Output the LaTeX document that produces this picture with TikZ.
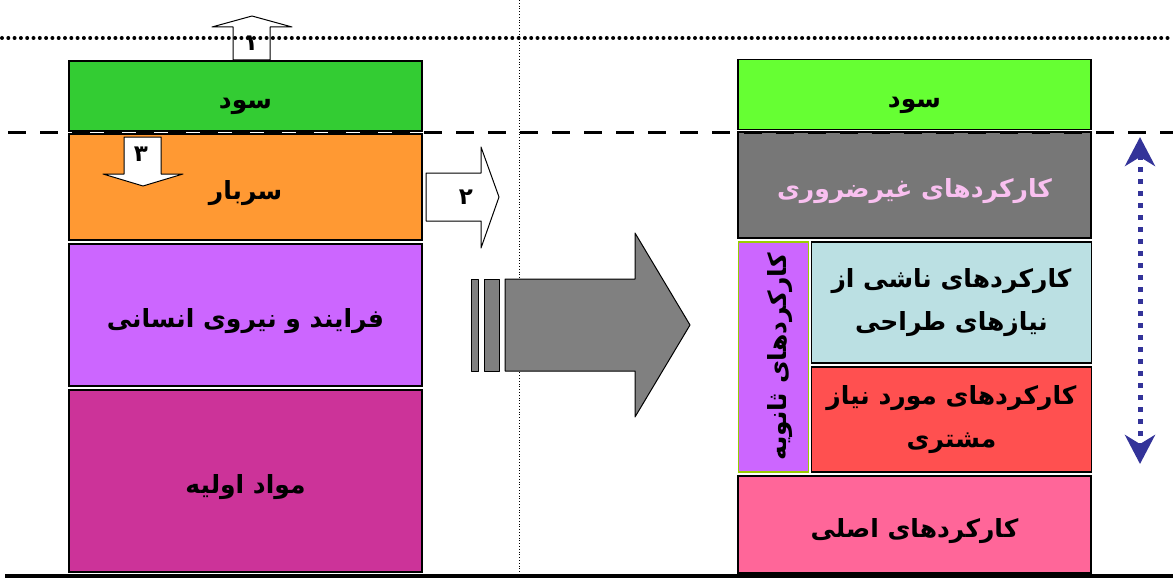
\documentclass[tikz,border=0pt]{standalone}
\usepackage{fontspec}
\newfontfamily\farsi[Script=Arabic]{DejaVu Sans}
\TeXXeTstate=1
\usepackage{tkz-euclide}
\usetikzlibrary{arrows.meta,calc}
\definecolor{ProfitClr}{HTML}{33CC33}
\definecolor{OverheadClr}{HTML}{FF9933}
\definecolor{ProcessClr}{HTML}{CC66FF}
\definecolor{MaterialClr}{HTML}{CC3399}
\definecolor{GainClr}{HTML}{66FF33}
\definecolor{ExtraClr}{HTML}{777777}
\definecolor{ExtraTxtClr}{HTML}{F9C0F0}
\definecolor{SecondEdgeClr}{HTML}{99CC00}
\definecolor{DesignClr}{HTML}{BBE0E3}
\definecolor{CustomerClr}{HTML}{FF5050}
\definecolor{BasicClr}{HTML}{FF6699}
\definecolor{FlowClr}{HTML}{333399}
\definecolor{ShiftClr}{HTML}{808080}
\tikzset{
  blockbox/.style={draw=black,line width=1.5pt,inner sep=0pt,align=center,
    font=\farsi\bfseries\fontsize{25}{43}\selectfont,
    execute at begin node={\rule{0pt}{32pt}}},
  numlabel/.style={inner sep=0pt,font=\farsi\bfseries\fontsize{23}{25}\selectfont},
  flowarrow/.style={draw=FlowClr,line width=5pt,dash pattern=on 5pt off 7pt,
    arrows={Stealth[length=29pt,width=30pt,inset=9pt]-Stealth[length=29pt,width=30pt,inset=9pt]}}
}

\begin{document}
\begin{tikzpicture}[x=1pt,y=-1pt]
\useasboundingbox (0,0) rectangle (1173,578);
\tkzSetUpLine[line width=1pt,color=black]

\draw[line width=0.8pt,dotted] (519,0) -- (519,578);

\node[blockbox,fill=ProfitClr,minimum width=353pt,minimum height=70pt] (profitL) at (245.5,96) {\beginR سود\endR};
\node[blockbox,fill=OverheadClr,minimum width=353pt,minimum height=106pt] (overheadL) at (245.5,187) {\beginR سربار\endR};
\node[blockbox,fill=ProcessClr,minimum width=353pt,minimum height=142pt] (processL) at (245.5,315) {\beginR فرایند و نیروی انسانی\endR};
\node[blockbox,fill=MaterialClr,minimum width=353pt,minimum height=182pt] (materialL) at (245.5,481) {\beginR مواد اولیه\endR};

\node[blockbox,fill=GainClr,minimum width=353pt,minimum height=70pt] (profitR) at (914.5,94.5) {\beginR سود\endR};
\node[blockbox,fill=ExtraClr,text=ExtraTxtClr,minimum width=353pt,minimum height=106pt] (extraR) at (914.5,185) {\beginR کارکردهای غیرضروری\endR};
\node[blockbox,draw=SecondEdgeClr,fill=ProcessClr,minimum width=230pt,minimum height=70pt,rotate=90] (secondR) at (773.5,357) {\beginR کارکردهای ثانویه\endR};
\node[blockbox,fill=DesignClr,minimum width=280pt,minimum height=121pt] (designR) at (951.5,302.5) {\beginR کارکردهای ناشی از\endR\\\beginR نیازهای طراحی\endR};
\node[blockbox,fill=CustomerClr,minimum width=280pt,minimum height=105pt] (customerR) at (951.5,419.5) {\beginR کارکردهای مورد نیاز\endR\\\beginR مشتری\endR};
\node[blockbox,fill=BasicClr,minimum width=353pt,minimum height=97pt] (basicR) at (914.5,524.5) {\beginR کارکردهای اصلی\endR};

\tkzDefPoints{233/60/U1,270/60/U2,270/27/U3,292/27/U4,252/16/U5,212/27/U6,233/27/U7}
\tkzFillPolygon[fill=white](U1,U2,U3,U4,U5,U6,U7)
\tkzDrawPolygon(U1,U2,U3,U4,U5,U6,U7)
\node[numlabel] (one) at (251,43) {۱};

\tkzDefPoints{124/137/D1,161/137/D2,161/174/D3,183/174/D4,143/186/D5,103/174/D6,124/174/D7}
\tkzFillPolygon[fill=white](D1,D2,D3,D4,D5,D6,D7)
\tkzDrawPolygon(D1,D2,D3,D4,D5,D6,D7)
\node[numlabel] (three) at (141,154) {۳};

\tkzDefPoints{426/173/R1,481/173/R2,481/147/R3,499/197/R4,481/248/R5,481/221/R6,426/221/R7}
\tkzFillPolygon[fill=white](R1,R2,R3,R4,R5,R6,R7)
\tkzDrawPolygon(R1,R2,R3,R4,R5,R6,R7)
\node[numlabel] (two) at (466,197) {۲};

\tkzDefPoints{471/279/B1,478/279/B2,478/371/B3,471/371/B4,484/279/C1,499/279/C2,499/371/C3,484/371/C4}
\tkzDefPoints{505/279/S1,635/279/S2,635/233/S3,690/325/S4,635/417/S5,635/371/S6,505/371/S7}
\tkzFillPolygon[fill=ShiftClr](B1,B2,B3,B4)
\tkzDrawPolygon(B1,B2,B3,B4)
\tkzFillPolygon[fill=ShiftClr](C1,C2,C3,C4)
\tkzDrawPolygon(C1,C2,C3,C4)
\tkzFillPolygon[fill=ShiftClr](S1,S2,S3,S4,S5,S6,S7)
\tkzDrawPolygon(S1,S2,S3,S4,S5,S6,S7)

\coordinate (flowTop) at (1140,137);
\coordinate (flowBot) at (1140,464);
\draw[flowarrow] (flowTop) -- (flowBot);

\draw[line width=4pt,line cap=round,dash pattern=on 0pt off 6.3pt] (2,38) -- (1173,38);
\draw[line width=3pt,dash pattern=on 18pt off 14pt] (8,132) -- (1173,132);
\draw[line width=3.5pt] (5,576) -- (1173,576);

\end{tikzpicture}
\end{document}
